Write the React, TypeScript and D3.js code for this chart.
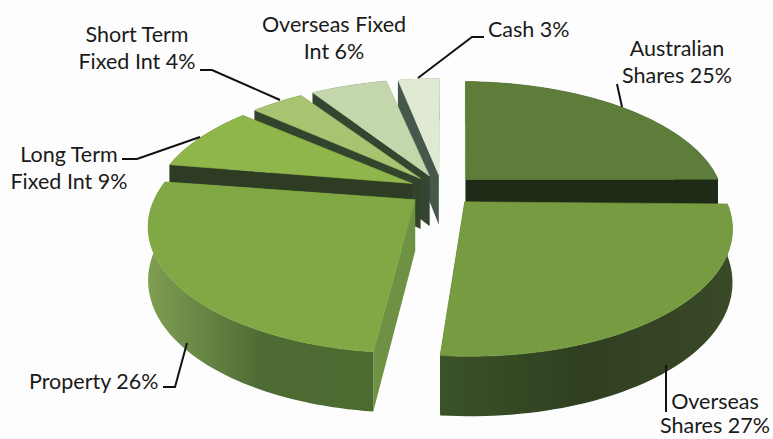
import React from 'react';
import * as d3 from 'd3';

const categories = ['Australian Shares', 'Overseas Shares', 'Property', 'Long Term Fixed Int', 'Short Term Fixed Int', 'Overseas Fixed Int', 'Cash'];
// labels are rounded, slice sizes estimated from the drawn angles
const shares = [25, 26.5, 25.9, 8.9, 4.3, 6.05, 3.4];

const topColors = ['#5f7d3a', '#769b40', '#80a845', '#8fb64a', '#a9c470', '#c4d6ab', '#e0ead2'];
const cutColors = ['#1f2b17', '#2a3a1c', '#6f9143', '#2e3c24', '#33442c', '#34462f', '#46574c'];
const wallStops = [
  ['#1f2b17', '#1f2b17'],
  ['#3b5228', '#2f3f20', '#3a4a28'],
  ['#7f9e52', '#4f6b34', '#4b6b30'],
  ['#2e3c24', '#2e3c24'],
  ['#33442c', '#33442c'],
  ['#34462f', '#34462f'],
  ['#46574c', '#46574c'],
];

// back to front
const drawOrder = [6, 5, 4, 3, 0, 2, 1];

const labels = [
  { lines: ['Short Term', 'Fixed Int 4%'], x: 137, y: 42, step: 27, anchor: 'middle', leader: [[200, 70], [212, 70], [280, 100]] },
  { lines: ['Overseas Fixed', 'Int 6%'], x: 334, y: 32, step: 27, anchor: 'middle', leader: [] },
  { lines: ['Cash 3%'], x: 488, y: 37, step: 27, anchor: 'start', leader: [[484, 37], [472, 37], [418, 78]] },
  { lines: ['Australian', 'Shares 25%'], x: 677, y: 56, step: 27, anchor: 'middle', leader: [[617, 84], [622, 107]] },
  { lines: ['Long Term', 'Fixed Int 9%'], x: 69, y: 162, step: 27, anchor: 'middle', leader: [[122, 159], [137, 159], [200, 137]] },
  { lines: ['Property 26%'], x: 29, y: 389, step: 27, anchor: 'start', leader: [[163, 387], [175, 387], [187, 343]] },
  { lines: ['Overseas', 'Shares 27%'], x: 715, y: 409, step: 24, anchor: 'middle', leader: [[666, 365], [666, 412]] },
];

const width = 773;
const height = 439;

// tilted disc with perspective, u/v are in disc radii
const cx = 442;
const cy = 190;
const scaleU = 257;
const scaleV = 120;
const persp = 0.19;
const explode = 0.13;
const rotation = (0.5 * Math.PI) / 180;
const padding = (1 * Math.PI) / 180;
const depth = d3.scaleLinear().domain([-1.1, 1.1]).range([42, 60]);

const project = (u: number, v: number, dropped = false): [number, number] => {
  const w = 1 - persp * v;
  return [cx + (scaleU * u) / w, cy + (scaleV * v) / w + (dropped ? depth(v) : 0)];
};

const pie = d3
  .pie<number>()
  .sort(null)
  .value((d) => d)
  .startAngle(rotation)
  .endAngle(rotation + 2 * Math.PI);
const arcs = pie(shares);
const line = d3.line();

const sliceGeometry = (i: number) => {
  const startAngle = arcs[i].startAngle + padding / 2;
  const endAngle = arcs[i].endAngle - padding / 2;
  const mid = (startAngle + endAngle) / 2;
  const ou = Math.sin(mid) * explode;
  const ov = -Math.cos(mid) * explode;
  const at = (a: number, r: number, dropped = false) =>
    project(ou + Math.sin(a) * r, ov - Math.cos(a) * r, dropped);
  const steps = d3.range(0, 61).map((k) => startAngle + ((endAngle - startAngle) * k) / 60);
  const rim = steps.map((a) => at(a, 1));
  const rimLow = steps.map((a) => at(a, 1, true));
  const apex = at(0, 0);
  const apexLow = at(0, 0, true);
  return {
    top: line([apex, ...rim])! + 'Z',
    wall: line([...rim, ...rimLow.slice().reverse()])! + 'Z',
    startCut: line([apex, rim[0], rimLow[0], apexLow])! + 'Z',
    endCut: line([apex, rim[60], rimLow[60], apexLow])! + 'Z',
  };
};

export default function App() {
  return (
    <svg
      width={width}
      height={height}
      style={{ position: 'absolute', left: 0, top: 0, background: '#fdfdfd' }}
      fontFamily="Lato, 'Open Sans', sans-serif"
    >
      <defs>
        {wallStops.map((stops, i) => (
          <linearGradient key={i} id={`wall-${i}`} gradientUnits="objectBoundingBox" x1="0" x2="1" y1="0" y2="0">
            {stops.map((c, k) => (
              <stop key={k} offset={k / (stops.length - 1)} stopColor={c} />
            ))}
          </linearGradient>
        ))}
      </defs>

      {drawOrder.map((i) => {
        const g = sliceGeometry(i);
        return (
          <g key={categories[i]}>
            <path d={g.endCut} fill={cutColors[i]} />
            <path d={g.startCut} fill={cutColors[i]} />
            <path d={g.wall} fill={`url(#wall-${i})`} />
            <path d={g.top} fill={topColors[i]} stroke={topColors[i]} strokeWidth={0.6} />
          </g>
        );
      })}

      {labels.map((l) => (
        <g key={l.lines[0] + l.x}>
          {l.leader.length > 0 && (
            <path d={line(l.leader as [number, number][])!} fill="none" stroke="#111" strokeWidth={2} />
          )}
          {l.lines.map((t, k) => (
            <text key={t} x={l.x} y={l.y + k * l.step} textAnchor={l.anchor as any} fontSize={21.5} fill="#1a1a1a">
              {t}
            </text>
          ))}
        </g>
      ))}
    </svg>
  );
}
